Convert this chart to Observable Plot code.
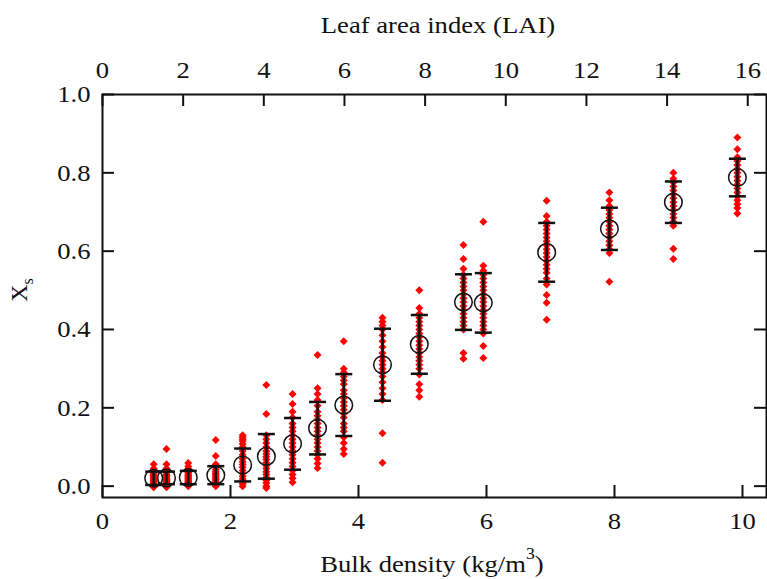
<!DOCTYPE html>
<html>
<head>
<meta charset="utf-8">
<script src="https://cdn.jsdelivr.net/npm/d3@7"></script>
<script src="https://cdn.jsdelivr.net/npm/@observablehq/plot@0.6"></script>
<style>
  html, body { margin: 0; padding: 0; background: #fff; }
  #chart svg { display: block; }
</style>
</head>
<body>
<div id="chart"></div>
<script>
// ---- data ----
const bulkDensity = [0.80, 1.00, 1.34, 1.77, 2.19, 2.56, 2.97, 3.36, 3.77, 4.375, 4.95, 5.64, 5.95, 6.94, 7.92, 8.92, 9.92];
const meanXs = [0.020, 0.021, 0.022, 0.028, 0.054, 0.076, 0.108, 0.148, 0.207, 0.310, 0.362, 0.470, 0.468, 0.597, 0.657, 0.725, 0.788];
const sdXs   = [0.017, 0.016, 0.017, 0.023, 0.042, 0.057, 0.066, 0.067, 0.079, 0.092, 0.075, 0.071, 0.076, 0.075, 0.054, 0.053, 0.048];
const samples = [
  [0.056, 0.045, 0.038, 0.033, 0.030, 0.027, 0.024, 0.022, 0.020, 0.018, 0.015, 0.013, 0.010, 0.008, 0.005, 0.003, 0.000, -0.003],
  [0.095, 0.056, 0.045, 0.040, 0.035, 0.030, 0.027, 0.024, 0.020, 0.017, 0.014, 0.011, 0.008, 0.005, 0.002, 0.000, -0.003],
  [0.059, 0.050, 0.044, 0.040, 0.035, 0.031, 0.027, 0.024, 0.021, 0.018, 0.015, 0.012, 0.009, 0.006, 0.003, 0.000],
  [0.118, 0.077, 0.056, 0.048, 0.042, 0.037, 0.033, 0.029, 0.025, 0.021, 0.017, 0.013, 0.010, 0.006, 0.003, 0.000],
  [0.130, 0.125, 0.120, 0.115, 0.108, 0.100, 0.090, 0.080, 0.070, 0.062, 0.055, 0.048, 0.040, 0.032, 0.025, 0.018, 0.012, 0.006, 0.000],
  [0.258, 0.184, 0.130, 0.120, 0.110, 0.100, 0.090, 0.082, 0.075, 0.068, 0.060, 0.052, 0.045, 0.037, 0.030, 0.022, 0.015, 0.008, 0.000, -0.005],
  [0.235, 0.210, 0.190, 0.175, 0.160, 0.150, 0.140, 0.130, 0.120, 0.110, 0.100, 0.090, 0.080, 0.070, 0.060, 0.050, 0.040, 0.030, 0.020, 0.010],
  [0.335, 0.250, 0.235, 0.220, 0.205, 0.190, 0.180, 0.170, 0.160, 0.150, 0.140, 0.130, 0.120, 0.110, 0.100, 0.090, 0.080, 0.070, 0.058, 0.046],
  [0.370, 0.300, 0.290, 0.280, 0.270, 0.260, 0.245, 0.235, 0.225, 0.215, 0.205, 0.195, 0.185, 0.175, 0.160, 0.150, 0.140, 0.125, 0.110, 0.095, 0.082],
  [0.430, 0.420, 0.410, 0.400, 0.385, 0.370, 0.355, 0.340, 0.330, 0.320, 0.310, 0.300, 0.290, 0.280, 0.265, 0.250, 0.235, 0.220, 0.135, 0.060],
  [0.500, 0.455, 0.440, 0.430, 0.420, 0.410, 0.400, 0.390, 0.380, 0.370, 0.360, 0.350, 0.340, 0.330, 0.320, 0.310, 0.300, 0.285, 0.260, 0.245, 0.228],
  [0.616, 0.580, 0.555, 0.540, 0.530, 0.520, 0.510, 0.500, 0.490, 0.480, 0.470, 0.460, 0.450, 0.440, 0.430, 0.420, 0.410, 0.400, 0.340, 0.325],
  [0.675, 0.563, 0.550, 0.540, 0.530, 0.520, 0.510, 0.500, 0.490, 0.480, 0.470, 0.460, 0.450, 0.440, 0.430, 0.420, 0.410, 0.400, 0.390, 0.358, 0.327],
  [0.729, 0.690, 0.675, 0.665, 0.655, 0.645, 0.635, 0.625, 0.615, 0.605, 0.595, 0.585, 0.575, 0.565, 0.555, 0.545, 0.530, 0.515, 0.488, 0.468, 0.425],
  [0.750, 0.730, 0.715, 0.705, 0.695, 0.685, 0.675, 0.665, 0.655, 0.645, 0.635, 0.625, 0.615, 0.605, 0.595, 0.522],
  [0.800, 0.785, 0.775, 0.765, 0.755, 0.745, 0.735, 0.725, 0.715, 0.705, 0.695, 0.685, 0.675, 0.665, 0.606, 0.580],
  [0.890, 0.860, 0.840, 0.830, 0.820, 0.810, 0.800, 0.790, 0.780, 0.770, 0.760, 0.750, 0.740, 0.730, 0.720, 0.710, 0.696]
];
const bulkTicks = [0, 2, 4, 6, 8, 10];
const laiTicks = [0, 2, 4, 6, 8, 10, 12, 14, 16];
const yTicks = [0, 0.2, 0.4, 0.6, 0.8, 1.0];
const laiPerBulk = 1.587;

// ---- layout ----
const W = 767, H = 579;
const mTop = 94, mBottom = 82, mLeft = 102, mRight = 1;
const plotW = W - mLeft - mRight, plotH = H - mTop - mBottom;
const tickLen = 12;
const font = '"Liberation Serif", "DejaVu Serif", "Times New Roman", serif';

const points = samples.flatMap((vals, i) => vals.map(v => ({x: bulkDensity[i], y: v})));
const stats = bulkDensity.map((x, i) => ({x, m: meanXs[i], lo: meanXs[i] - sdXs[i], hi: meanXs[i] + sdXs[i]}));
const laiAsBulk = laiTicks.map(l => l / laiPerBulk);

const capSymbol = {draw(ctx) { ctx.moveTo(-8.5, 0); ctx.lineTo(8.5, 0); }};

const chart = Plot.plot({
  width: W, height: H,
  marginTop: mTop, marginBottom: mBottom, marginLeft: mLeft, marginRight: mRight,
  style: {fontFamily: font, fontSize: "24px", color: "#111", background: "#fff"},
  x: {domain: [0, 10.375]},
  y: {domain: [-0.029, 1.0]},
  marks: [
    Plot.dot(points, {x: "x", y: "y", symbol: "diamond2", r: 3.6, fill: "#ff0000", stroke: "none"}),
    Plot.ruleX(stats, {x: "x", y1: "lo", y2: "hi", stroke: "#111", strokeWidth: 2.5}),
    Plot.dot(stats, {x: "x", y: "hi", symbol: capSymbol, stroke: "#111", strokeWidth: 2.5, fill: "none"}),
    Plot.dot(stats, {x: "x", y: "lo", symbol: capSymbol, stroke: "#111", strokeWidth: 2.5, fill: "none"}),
    Plot.dot(stats, {x: "x", y: "m", r: 8.8, stroke: "#111", strokeWidth: 1.5, fill: "none"}),
    // inward ticks
    Plot.ruleX(bulkTicks, {x: d => d, insetTop: plotH - tickLen, stroke: "#111", strokeWidth: 2}),
    Plot.ruleX(laiAsBulk, {x: d => d, insetBottom: plotH - tickLen, stroke: "#111", strokeWidth: 2}),
    Plot.ruleY(yTicks, {y: d => d, insetRight: plotW - tickLen, stroke: "#111", strokeWidth: 2}),
    Plot.ruleY(yTicks, {y: d => d, insetLeft: plotW - tickLen, stroke: "#111", strokeWidth: 2}),
    Plot.frame({stroke: "#111", strokeWidth: 2}),
    // tick labels
    Plot.axisX(bulkTicks, {anchor: "bottom", tickSize: 0, tickPadding: 14, label: null, tickFormat: d => String(d)}),
    Plot.axisX(laiAsBulk, {anchor: "top", tickSize: 0, tickPadding: 17, label: null, tickFormat: d => String(Math.round(d * laiPerBulk))}),
    Plot.axisY(yTicks, {anchor: "left", tickSize: 0, tickPadding: 12, label: null, tickFormat: d3.format(".1f")})
  ]
});

document.getElementById("chart").appendChild(chart);

// axis titles (with super/subscripts)
const svg = d3.select(chart);
svg.append("text")
  .attr("x", 438).attr("y", 33)
  .attr("text-anchor", "middle").style("font-family", font).style("font-size", "24px").attr("fill", "#111")
  .text("Leaf area index (LAI)");
const bt = svg.append("text")
  .attr("x", 432).attr("y", 572)
  .attr("text-anchor", "middle").style("font-family", font).style("font-size", "24px").attr("fill", "#111");
bt.append("tspan").text("Bulk density (kg/m");
bt.append("tspan").attr("dy", -13).style("font-size", "16px").text("3");
bt.append("tspan").attr("dy", 13).text(")");

// the reference type is set slightly wide: stretch horizontal texts about their anchor
svg.selectAll("text").each(function () {
  const b = this.getBBox();
  const anchor = getComputedStyle(this).textAnchor;
  const ax = anchor === "end" ? b.x + b.width : anchor === "start" ? b.x : b.x + b.width / 2;
  const prev = this.getAttribute("transform") || "";
  this.setAttribute("transform", `${prev} translate(${ax},0) scale(1.11,1) translate(${-ax},0)`);
});

const yt = svg.append("text")
  .attr("transform", "translate(27,290) rotate(-90)")
  .attr("text-anchor", "middle").style("font-family", font).style("font-size", "24px").attr("fill", "#111");
yt.append("tspan").text("X");
yt.append("tspan").attr("dy", 6).style("font-size", "16px").text("s");
</script>
</body>
</html>
